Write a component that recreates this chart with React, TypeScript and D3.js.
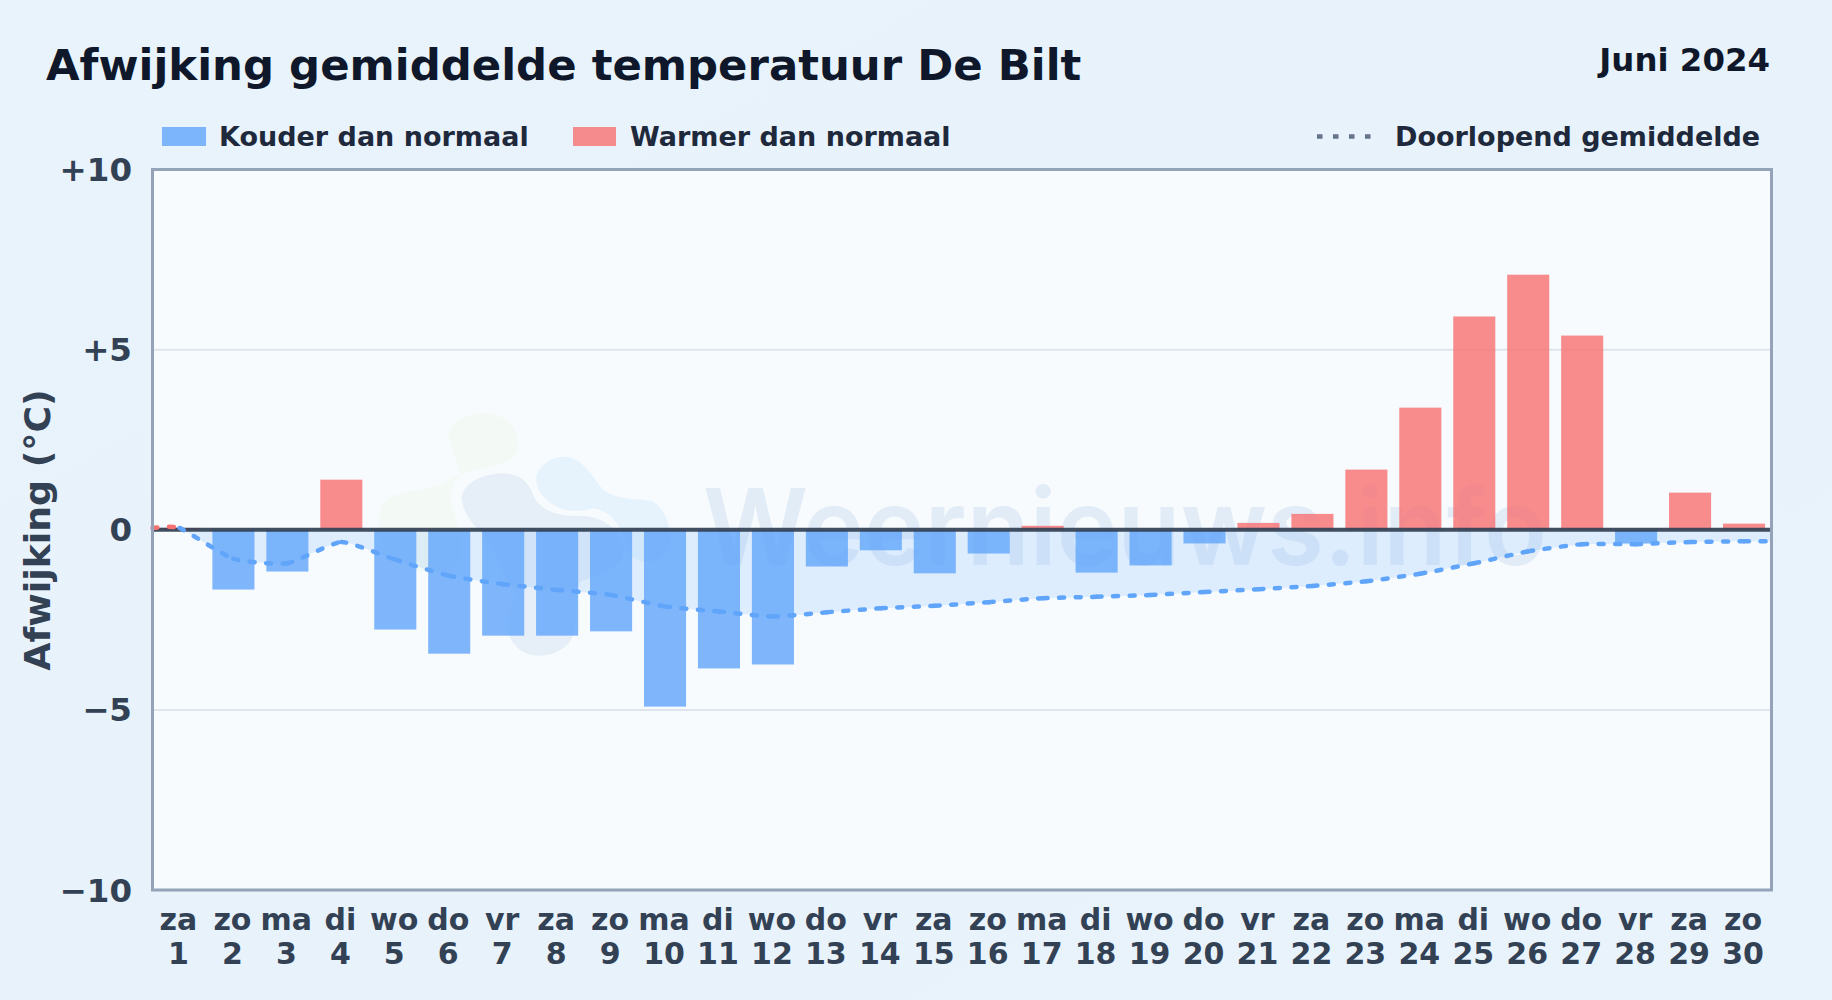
import React from "react";
import * as d3 from "d3";

const weekdays = ["za","zo","ma","di","wo","do","vr","za","zo","ma","di","wo","do","vr","za","zo","ma","di","wo","do","vr","za","zo","ma","di","wo","do","vr","za","zo"];
const days = d3.range(1, 31);
const anomaly = [0.05,-1.66,-1.16,1.39,-2.77,-3.44,-2.94,-2.94,-2.82,-4.91,-3.85,-3.74,-1.02,-0.57,-1.21,-0.66,0.11,-1.19,-0.99,-0.38,0.19,0.44,1.67,3.39,5.92,7.08,5.39,-0.38,1.03,0.17];
const runningMean = [0.05,-0.81,-0.93,-0.34,-0.83,-1.28,-1.51,-1.67,-1.81,-2.13,-2.27,-2.41,-2.29,-2.18,-2.11,-2.01,-1.90,-1.86,-1.81,-1.73,-1.65,-1.56,-1.43,-1.22,-0.93,-0.60,-0.40,-0.40,-0.34,-0.32];
const yTicks = [10, 5, 0, -5, -10];
const gridTicks = [5, -5];

const W = 1832, H = 1000;
const L = 152.5, R = 1771.5, T = 169.5, B = 890;
const FONT = "'DejaVu Sans', sans-serif";

const x = d3.scaleBand<number>().domain(days).range([L, R - 0.5]).paddingInner(0.22).paddingOuter(0.11);
const y = d3.scaleLinear().domain([-10, 10]).range([B, T]);
const cx = (d: number) => (x(d) as number) + x.bandwidth() / 2;

const fmt = (v: number) => (v > 0 ? `+${v}` : v < 0 ? `\u2212${-v}` : "0");

type P = [number, number];
const linePts: P[] = [
  [L, y(runningMean[0])],
  ...runningMean.map((v, i): P => [cx(days[i]), y(v)]),
  [R, y(runningMean[runningMean.length - 1])],
];
const curve = d3.curveCardinal.tension(0.5);
const lineGen = d3.line<P>().x(p => p[0]).y(p => p[1]).curve(curve);
const areaGen = d3.area<P>().x(p => p[0]).y0(y(0)).y1(p => p[1]).curve(curve);

// Each day's stretch of the line is its own path, so its dash pattern restarts per day.
function segments() {
  const d = lineGen(linePts) as string;
  const parts = d.slice(1).split("C");
  const out: { d: string; warm: boolean }[] = [];
  let start = parts[0];
  for (let i = 1; i < parts.length; i++) {
    const nums = parts[i].split(",");
    const end = nums.slice(-2).join(",");
    const val = i === 1 ? runningMean[0] : runningMean[Math.min(i - 1, runningMean.length - 1)];
    out.push({ d: `M${start}C${parts[i]}`, warm: val > 0 });
    start = end;
  }
  return out;
}

function Watermark() {
  return (
    <g>
      <g transform="translate(360,395) scale(0.3333)">
        <path d="M265,120C270,80 320,55 380,55C440,60 475,100 475,155C470,195 430,210 350,225C300,235 275,250 250,265C210,285 130,285 85,310C50,340 50,400 70,470C100,530 180,540 260,525C330,500 300,420 270,310C275,290 280,260 300,240Z" fill="#f3f9f4" />
        <path d="M305,310C310,265 360,240 420,235C480,235 505,260 520,300C540,350 600,365 660,362C730,365 770,395 790,450C800,520 720,540 660,560C640,610 660,690 630,740C590,790 500,800 460,745C430,700 440,640 470,600C440,560 420,500 380,430C340,390 310,360 305,310Z" fill="#e6eff8" />
        <path d="M530,240C545,200 590,180 630,187C680,205 700,250 730,285C770,315 830,310 875,318C915,340 935,390 930,450C910,500 860,520 810,480C790,400 760,350 700,340C650,355 600,350 560,315C535,290 525,265 530,240Z" fill="#e6f3fd" />
      </g>
      <text x={703} y={565} fontFamily="Inter, Roboto, sans-serif" fontWeight={600} fontSize={106} fill="#e2ecf7" textLength={844} lengthAdjust="spacingAndGlyphs">Weernieuws.info</text>
    </g>
  );
}

export default function App() {
  return (
    <svg width={W} height={H} viewBox={`0 0 ${W} ${H}`} style={{ position: "absolute", left: 0, top: 0, display: "block" }} fontFamily={FONT}>
      <defs>
        <linearGradient id="bg" x1="0" y1="0" x2="1" y2="1">
          <stop offset="0" stopColor="#e9f3fc" />
          <stop offset="0.5" stopColor="#e7f2fb" />
          <stop offset="1" stopColor="#e9f3fc" />
        </linearGradient>
      </defs>
      <rect width={W} height={H} fill="url(#bg)" />

      <text x={46} y={79.5} fontSize={43.4} fontWeight={700} fill="#0f172a">Afwijking gemiddelde temperatuur De Bilt</text>
      <text x={1770} y={71} fontSize={32.4} fontWeight={700} fill="#0f172a" textAnchor="end">Juni 2024</text>

      <rect x={162} y={127} width={44} height={19} fill="#60a5fa" opacity={0.8} />
      <text x={219} y={146} fontSize={27} fontWeight={700} fill="#1e293b">Kouder dan normaal</text>
      <rect x={573} y={127} width={43} height={19} fill="#f87171" opacity={0.8} />
      <text x={630} y={146} fontSize={27} fontWeight={700} fill="#1e293b">Warmer dan normaal</text>
      <line x1={1317} x2={1375} y1={136.5} y2={136.5} stroke="#64748b" strokeWidth={4.5} strokeDasharray="5.5 10.5" />
      <text x={1395} y={146} fontSize={27} fontWeight={700} fill="#1e293b">Doorlopend gemiddelde</text>

      <rect x={L} y={T} width={R - L} height={B - T} fill="#f7fbfe" />
      <Watermark />
      {gridTicks.map(t => (
        <line key={t} x1={L} x2={R} y1={y(t)} y2={y(t)} stroke="#dfe5ec" strokeWidth={2} />
      ))}
      <path d={areaGen(linePts) as string} fill="#60a5fa" opacity={0.16} />
      {anomaly.map((v, i) => (
        <rect key={i} x={x(days[i])} width={x.bandwidth()} y={v >= 0 ? y(v) : y(0)} height={Math.abs(y(v) - y(0))} fill={v >= 0 ? "#f87171" : "#60a5fa"} opacity={0.8} />
      ))}
      <line x1={L} x2={R} y1={y(0)} y2={y(0)} stroke="#334155" strokeWidth={4} opacity={0.92} />
      {segments().map((s, i) => (
        <path key={i} d={s.d} fill="none" stroke={s.warm ? "#f87171" : "#60a5fa"} strokeWidth={4.5} strokeLinecap="round" strokeDasharray="5 11.5" />
      ))}
      <rect x={L} y={T} width={R - L} height={B - T} fill="none" stroke="#94a3b8" strokeWidth={3} />

      {yTicks.map(t => (
        <text key={t} x={132} y={y(t) + 11.5} fontSize={32.5} fontWeight={700} fill="#334155" textAnchor="end">{fmt(t)}</text>
      ))}
      {days.map((d, i) => (
        <g key={d} fontSize={30} fontWeight={700} fill="#334155" textAnchor="middle">
          <text x={cx(d) - 1} y={930}>{weekdays[i]}</text>
          <text x={cx(d) - 1} y={964}>{d}</text>
        </g>
      ))}
      <text transform="translate(50,530) rotate(-90)" fontSize={36.3} fontWeight={700} fill="#334155" textAnchor="middle">Afwijking (°C)</text>
    </svg>
  );
}
